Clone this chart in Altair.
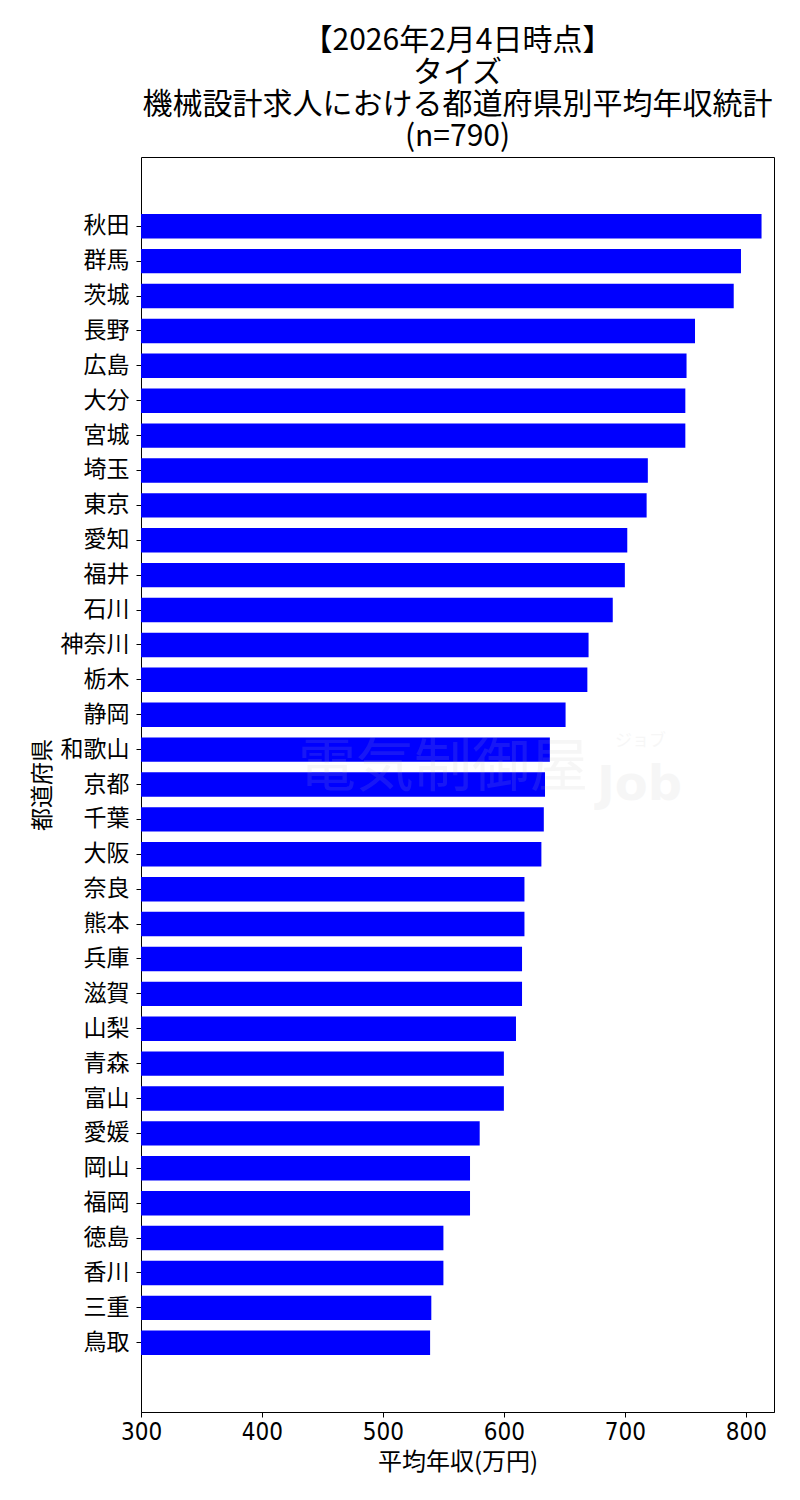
import altair as alt
import pandas as pd

prefs = ["秋田", "群馬", "茨城", "長野", "広島", "大分", "宮城", "埼玉", "東京", "愛知",
         "福井", "石川", "神奈川", "栃木", "静岡", "和歌山", "京都", "千葉", "大阪", "奈良",
         "熊本", "兵庫", "滋賀", "山梨", "青森", "富山", "愛媛", "岡山", "福岡", "徳島",
         "香川", "三重", "鳥取"]
values = [813, 796, 790, 758, 751, 750, 750, 719, 718, 702,
          700, 690, 670, 669, 651, 638, 634, 633, 631, 617,
          617, 615, 615, 610, 600, 600, 580, 572, 572, 550,
          550, 540, 539]
title_lines = ["【2026年2月4日時点】", "タイズ", "機械設計求人における都道府県別平均年収統計", "(n=790)"]
x_ticks = [300, 400, 500, 600, 700, 800]

df = pd.DataFrame({"pref": prefs, "value": values})

FONT = "Noto Sans CJK JP"
W, H = 633, 1255
n = len(prefs)
step = H / (n - 0.3 + 2 * 1.635)
y0 = 1.635 * step

bars = alt.Chart(df).mark_bar(color="#0000ff", clip=True).encode(
    x=alt.X("value:Q",
            scale=alt.Scale(domain=[300, 823.3], nice=False, zero=False),
            axis=alt.Axis(values=x_ticks, title="平均年収(万円)", grid=False,
                          labelFontSize=24, titleFontSize=24, labelFlush=False,
                          labelFont="DejaVu Sans Condensed, Liberation Sans Narrow, " + FONT,
                          titleFont=FONT, labelColor="black", titleColor="black",
                          domainColor="black", tickColor="black", tickSize=5,
                          labelPadding=3, titlePadding=6, titleFontWeight="normal")),
    y=alt.Y("pref:N", sort=prefs,
            scale=alt.Scale(paddingInner=0.3, paddingOuter=0, range=[y0, H - y0]),
            axis=alt.Axis(title="都道府県", grid=False, labelFontSize=23, titleFontSize=23,
                          labelFont=FONT, titleFont=FONT, labelColor="black", titleColor="black",
                          domainColor="black", tickColor="black", tickSize=5,
                          labelPadding=7, titlePadding=6, titleFontWeight="normal")),
)

wm1 = alt.Chart(pd.DataFrame({"t": ["電気制御屋"]})).mark_text(
    font=FONT, fontSize=58, color="#bbbbbb", opacity=0.12,
    align="left", baseline="middle").encode(text="t:N", x=alt.value(157), y=alt.value(612))
wm2 = alt.Chart(pd.DataFrame({"t": ["Job"]})).mark_text(
    font="DejaVu Sans", fontSize=48, fontWeight="bold",
    color="#bbbbbb", opacity=0.12, align="left", baseline="alphabetic").encode(
    text="t:N", x=alt.value(456), y=alt.value(643))
wm3 = alt.Chart(pd.DataFrame({"t": ["ジョブ"]})).mark_text(
    font=FONT, fontSize=17, color="#bbbbbb", opacity=0.12,
    align="left", baseline="middle").encode(text="t:N", x=alt.value(474), y=alt.value(584))

chart = alt.layer(bars, wm1, wm2, wm3).properties(
    width=W, height=H,
    background="white",
    title=alt.TitleParams(text=title_lines, font=FONT, fontSize=30, fontWeight="normal",
                          color="black", anchor="middle", lineHeight=32, offset=5),
    autosize=alt.AutoSizeParams(type="none"),
    padding={"left": 133, "top": 149, "right": 16, "bottom": 80},
).configure_view(stroke="black", strokeWidth=1)

chart.save("out.html", embed_options={"renderer": "svg", "actions": False})
